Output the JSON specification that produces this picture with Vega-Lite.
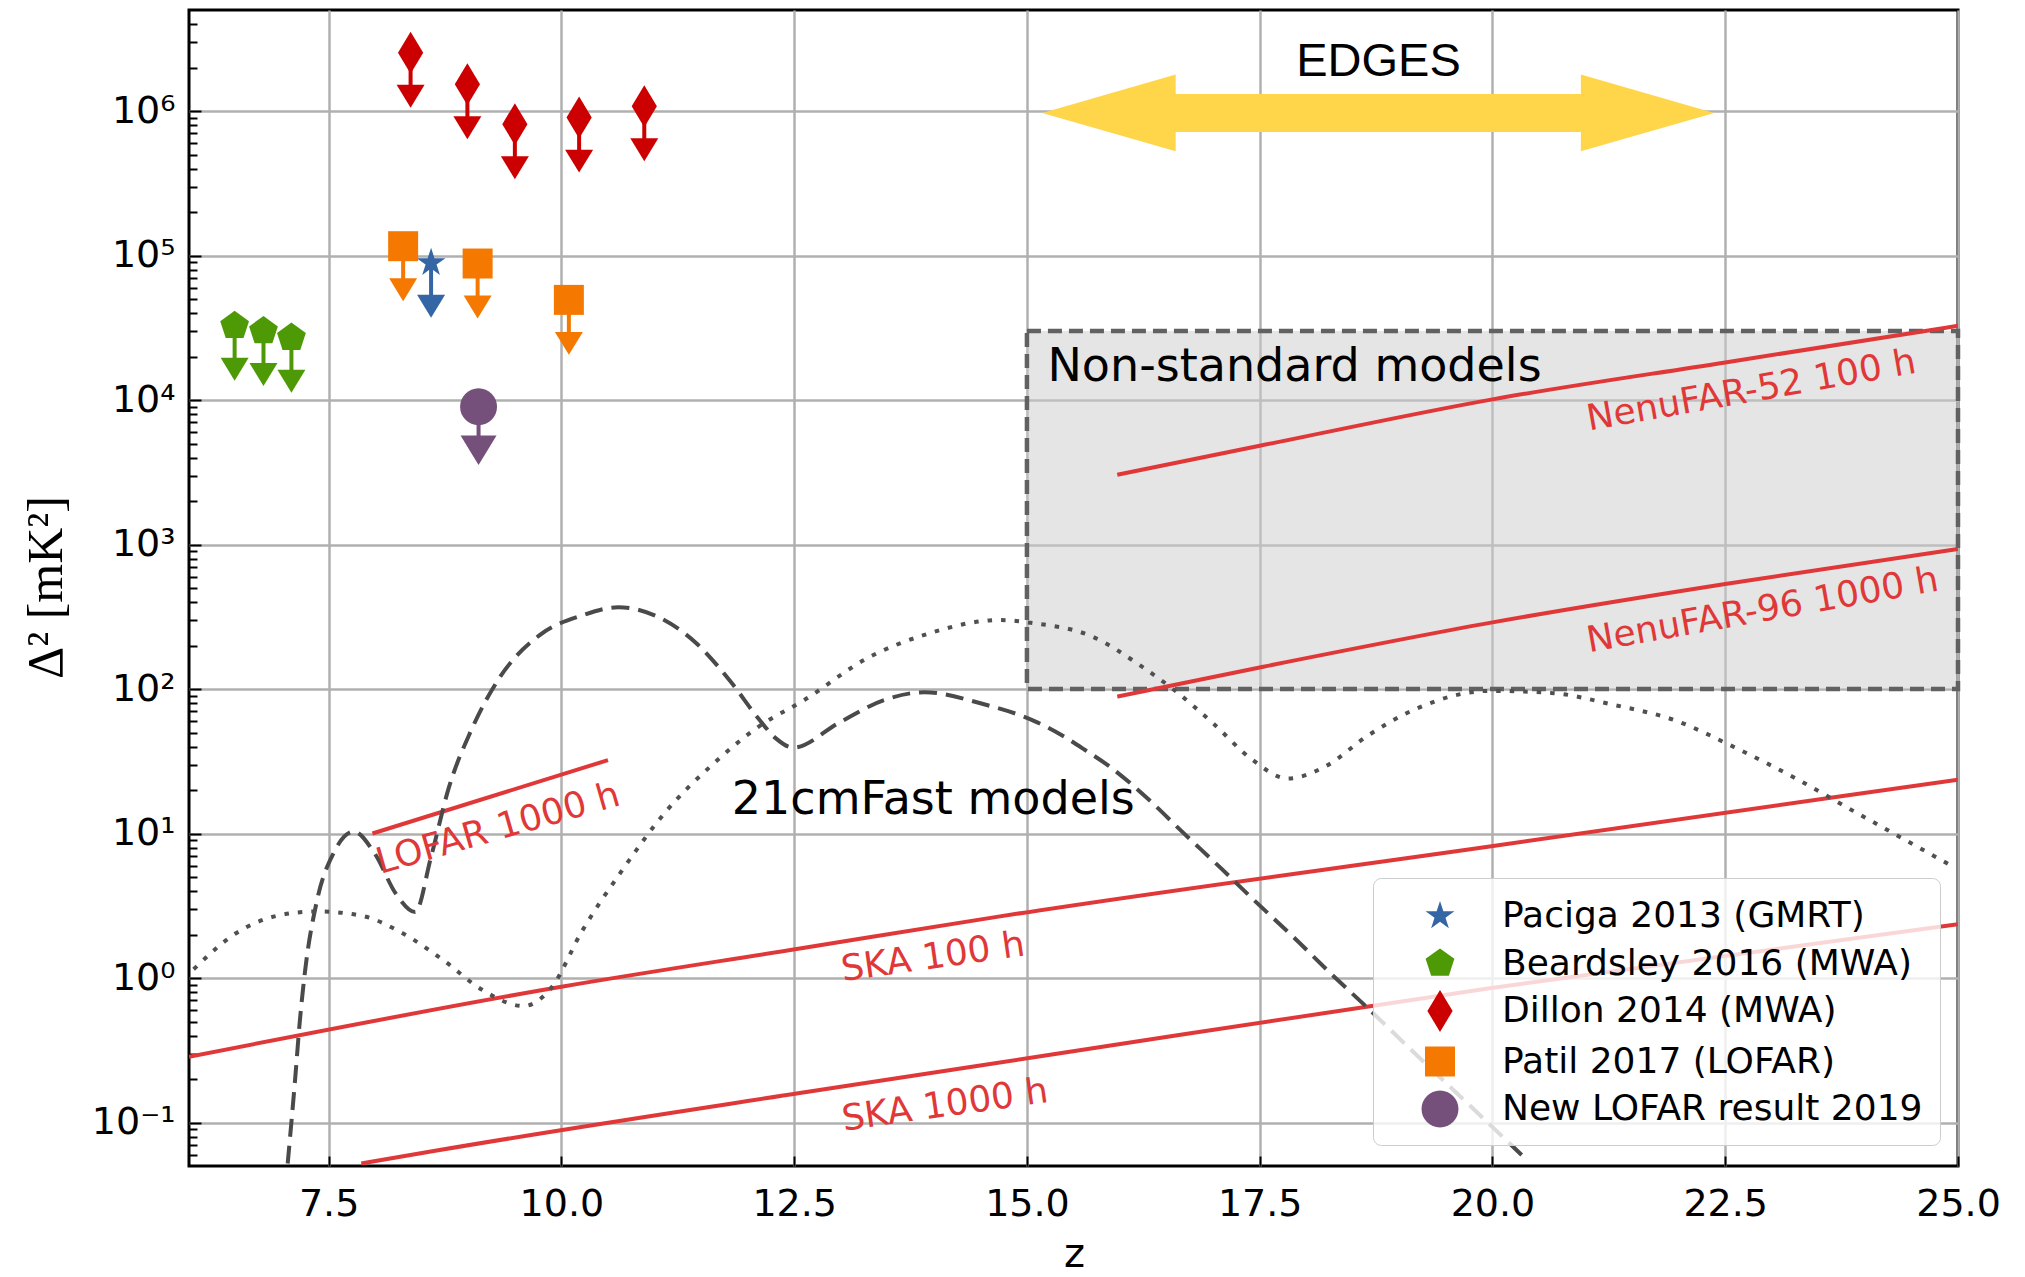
{
  "$schema": "https://vega.github.io/schema/vega-lite/v6.json",
  "width": 1769,
  "height": 1156,
  "autosize": {"type": "none"},
  "padding": {"left": 189, "top": 10, "right": 67, "bottom": 111},
  "background": "white",
  "config": {
    "view": {"stroke": "black", "strokeWidth": 3},
    "axis": {
      "labelFont": "DejaVu Sans", "titleFont": "DejaVu Sans", "labelColor": "black", "titleColor": "black",
      "titleFontWeight": "normal", "tickColor": "black", "tickWidth": 2, "gridColor": "#b0b0b0",
      "gridWidth": 2.5, "gridOpacity": 1, "domain": false, "labelFlush": false, "labelOverlap": false
    },
    "text": {"font": "DejaVu Sans"}
  },
  "datasets": {
    "box": [{"z": 15, "z2": 25, "v": 100, "v2": 30000}],
    "limits": [
      {"series": "Paciga 2013 (GMRT)", "z": 8.60, "v": 89000, "lo": 44500},
      {"series": "Beardsley 2016 (MWA)", "z": 6.49, "v": 32600, "lo": 16300},
      {"series": "Beardsley 2016 (MWA)", "z": 6.80, "v": 30000, "lo": 15000},
      {"series": "Beardsley 2016 (MWA)", "z": 7.10, "v": 27000, "lo": 13500},
      {"series": "Dillon 2014 (MWA)", "z": 8.38, "v": 2530000, "lo": 1265000},
      {"series": "Dillon 2014 (MWA)", "z": 8.99, "v": 1530000, "lo": 765000},
      {"series": "Dillon 2014 (MWA)", "z": 9.50, "v": 810000, "lo": 405000},
      {"series": "Dillon 2014 (MWA)", "z": 10.19, "v": 900000, "lo": 450000},
      {"series": "Dillon 2014 (MWA)", "z": 10.89, "v": 1080000, "lo": 540000},
      {"series": "Patil 2017 (LOFAR)", "z": 8.30, "v": 116000, "lo": 58000},
      {"series": "Patil 2017 (LOFAR)", "z": 9.10, "v": 88000, "lo": 44000},
      {"series": "Patil 2017 (LOFAR)", "z": 10.08, "v": 49300, "lo": 24650},
      {"series": "New LOFAR result 2019", "z": 9.11, "v": 8970, "lo": 4485}
    ],
    "sens": [
      {"name": "SKA 100 h", "z": 6, "v": 0.285},
      {"name": "SKA 100 h", "z": 10, "v": 0.87},
      {"name": "SKA 100 h", "z": 12.56, "v": 1.6},
      {"name": "SKA 100 h", "z": 14.71, "v": 2.67},
      {"name": "SKA 100 h", "z": 19.97, "v": 8.13},
      {"name": "SKA 100 h", "z": 25, "v": 23.6},
      {"name": "SKA 1000 h", "z": 7.85, "v": 0.052},
      {"name": "SKA 1000 h", "z": 8.66, "v": 0.064},
      {"name": "SKA 1000 h", "z": 12.56, "v": 0.16},
      {"name": "SKA 1000 h", "z": 15.25, "v": 0.294},
      {"name": "SKA 1000 h", "z": 19.97, "v": 0.85},
      {"name": "SKA 1000 h", "z": 25, "v": 2.36},
      {"name": "LOFAR 1000 h", "z": 7.97, "v": 10},
      {"name": "LOFAR 1000 h", "z": 10.5, "v": 32.2},
      {"name": "NenuFAR-52 100 h", "z": 15.97, "v": 3040},
      {"name": "NenuFAR-52 100 h", "z": 17.5, "v": 4820},
      {"name": "NenuFAR-52 100 h", "z": 20, "v": 10100},
      {"name": "NenuFAR-52 100 h", "z": 22.5, "v": 18200},
      {"name": "NenuFAR-52 100 h", "z": 25, "v": 32600},
      {"name": "NenuFAR-96 1000 h", "z": 15.97, "v": 88.6},
      {"name": "NenuFAR-96 1000 h", "z": 17.5, "v": 141},
      {"name": "NenuFAR-96 1000 h", "z": 20, "v": 289},
      {"name": "NenuFAR-96 1000 h", "z": 22.5, "v": 533},
      {"name": "NenuFAR-96 1000 h", "z": 25, "v": 931}
    ],
    "modelA": [
      {"z": 7.06, "v": 0.052}, {"z": 7.14, "v": 0.2}, {"z": 7.19, "v": 0.5}, {"z": 7.246, "v": 1.11},
      {"z": 7.37, "v": 3.33}, {"z": 7.554, "v": 7.35}, {"z": 7.77, "v": 10.3}, {"z": 7.99, "v": 7.35},
      {"z": 8.23, "v": 3.76}, {"z": 8.43, "v": 2.86}, {"z": 8.60, "v": 6.9}, {"z": 8.79, "v": 20.7},
      {"z": 9.03, "v": 51.6}, {"z": 9.34, "v": 121}, {"z": 9.77, "v": 237}, {"z": 10.21, "v": 321},
      {"z": 10.61, "v": 368}, {"z": 11.01, "v": 321}, {"z": 11.44, "v": 210}, {"z": 11.81, "v": 114},
      {"z": 12.12, "v": 62}, {"z": 12.30, "v": 45.7}, {"z": 12.49, "v": 39.3}, {"z": 12.98, "v": 58.4},
      {"z": 13.47, "v": 84}, {"z": 13.90, "v": 95}, {"z": 14.52, "v": 79}, {"z": 15.08, "v": 60},
      {"z": 15.37, "v": 48}, {"z": 15.62, "v": 38}, {"z": 15.89, "v": 29}, {"z": 16.29, "v": 17.6}, {"z": 16.68, "v": 10.1},
      {"z": 17.08, "v": 5.78}, {"z": 17.47, "v": 3.31}, {"z": 17.87, "v": 1.90}, {"z": 18.26, "v": 1.08},
      {"z": 18.66, "v": 0.62}, {"z": 19.18, "v": 0.295}, {"z": 19.71, "v": 0.14}, {"z": 20.37, "v": 0.055}
    ],
    "modelB": [
      {"z": 6.05, "v": 1.15}, {"z": 6.51, "v": 2.05}, {"z": 6.94, "v": 2.69}, {"z": 7.37, "v": 2.89},
      {"z": 7.86, "v": 2.69}, {"z": 8.29, "v": 2.05}, {"z": 8.73, "v": 1.33}, {"z": 9.16, "v": 0.82},
      {"z": 9.59, "v": 0.64}, {"z": 9.90, "v": 0.87}, {"z": 10.21, "v": 2.05}, {"z": 10.64, "v": 5.42},
      {"z": 11.13, "v": 14.4}, {"z": 11.62, "v": 29.9}, {"z": 12.12, "v": 55}, {"z": 12.61, "v": 84},
      {"z": 13.29, "v": 164}, {"z": 13.90, "v": 237}, {"z": 14.71, "v": 300}, {"z": 15.04, "v": 287},
      {"z": 15.70, "v": 231}, {"z": 16.22, "v": 145}, {"z": 16.62, "v": 94}, {"z": 17.01, "v": 57},
      {"z": 17.41, "v": 32.8}, {"z": 17.80, "v": 24}, {"z": 18.20, "v": 29}, {"z": 18.66, "v": 47.5},
      {"z": 19.18, "v": 73}, {"z": 19.97, "v": 97}, {"z": 20.63, "v": 94}, {"z": 21.29, "v": 78},
      {"z": 21.95, "v": 61}, {"z": 22.60, "v": 39.5}, {"z": 23.26, "v": 24}, {"z": 23.92, "v": 13.8},
      {"z": 24.45, "v": 8.9}, {"z": 24.97, "v": 5.78}
    ],
    "edges": [{"z": 16.55, "z2": 21.0, "v": 970000}],
    "edgesLeft": [{"z": 15.881, "v": 970000}],
    "edgesRight": [{"z": 21.666, "v": 970000}],
    "skaLabels": [
      {"t": "SKA 100 h", "z": 13.99, "v": 1.39},
      {"t": "SKA 1000 h", "z": 14.12, "v": 0.1315}
    ],
    "lofarLabel": [{"t": "LOFAR 1000 h", "z": 9.32, "v": 10.8}],
    "nenuLabels": [
      {"t": "NenuFAR-52 100 h", "z": 22.78, "v": 11600},
      {"t": "NenuFAR-96 1000 h", "z": 22.90, "v": 350}
    ],
    "blackLabels": [
      {"t": "21cmFast models", "z": 11.83, "v": 13.7},
      {"t": "Non-standard models", "z": 15.22, "v": 13580}
    ],
    "edgesLabel": [{"t": "EDGES", "z": 18.776, "v": 1750000}]
  },
  "layer": [
    {
      "layer": [
        {
          "data": {"name": "box"},
          "mark": {"type": "rect", "fill": "#cccccc", "fillOpacity": 0.5, "stroke": "#616161", "strokeWidth": 4.5, "strokeDash": [14, 7]},
          "encoding": {
            "x": {"field": "z", "type": "quantitative", "scale": {"domain": [6, 25], "nice": false, "zero": false},
              "axis": {"title": "z", "values": [7.5, 10, 12.5, 15, 17.5, 20, 22.5, 25], "format": ".1f", "labelFontSize": 38,
                "tickSize": -10, "labelPadding": 29, "titleFontSize": 40, "titleX": 885, "titleY": 100,
                "titleBaseline": "alphabetic", "titleAlign": "center", "grid": true}},
            "x2": {"field": "z2"},
            "y": {"field": "v", "type": "quantitative", "scale": {"type": "log", "domain": [0.05, 5000000], "nice": false},
              "axis": {"title": "Δ² [mK²]", "values": [0.1, 1, 10, 100, 1000, 10000, 100000, 1000000],
                "labelExpr": "datum.value < 0.5 ? '10⁻¹' : datum.value < 5 ? '10⁰' : datum.value < 50 ? '10¹' : datum.value < 500 ? '10²' : datum.value < 5000 ? '10³' : datum.value < 50000 ? '10⁴' : datum.value < 500000 ? '10⁵' : '10⁶'",
                "labelFontSize": 38, "tickSize": -12, "labelPadding": 26, "titleFont": "Liberation Serif", "titleFontSize": 50,
                "titleAngle": 270, "titleX": -143, "titleY": 577, "titleAlign": "center", "titleBaseline": "middle", "grid": true}},
            "y2": {"field": "v2"}
          }
        },
        {
          "data": {"name": "sens"},
          "mark": {"type": "line", "color": "#e03838", "strokeWidth": 4, "clip": true, "interpolate": "monotone"},
          "encoding": {
            "x": {"field": "z", "type": "quantitative", "scale": {"domain": [6, 25], "nice": false, "zero": false}},
            "y": {"field": "v", "type": "quantitative", "scale": {"type": "log", "domain": [0.05, 5000000], "nice": false}},
            "detail": {"field": "name", "type": "nominal"}
          }
        },
        {
          "data": {"name": "modelA"},
          "mark": {"type": "line", "color": "#4a4a4a", "strokeWidth": 4, "strokeDash": [18, 9], "clip": true, "interpolate": "monotone"},
          "encoding": {
            "x": {"field": "z", "type": "quantitative", "scale": {"domain": [6, 25], "nice": false, "zero": false}},
            "y": {"field": "v", "type": "quantitative", "scale": {"type": "log", "domain": [0.05, 5000000], "nice": false}}
          }
        },
        {
          "data": {"name": "limits"},
          "mark": {"type": "rule", "strokeWidth": 4},
          "encoding": {
            "x": {"field": "z", "type": "quantitative", "scale": {"domain": [6, 25], "nice": false, "zero": false}},
            "y": {"field": "v", "type": "quantitative", "scale": {"type": "log", "domain": [0.05, 5000000], "nice": false}},
            "y2": {"field": "lo"},
            "stroke": {"field": "series", "type": "nominal",
              "scale": {"domain": ["New LOFAR result 2019", "Patil 2017 (LOFAR)", "Dillon 2014 (MWA)", "Beardsley 2016 (MWA)", "Paciga 2013 (GMRT)"],
                "range": ["#75507b", "#f57900", "#cc0000", "#4e9a06", "#3465a4"]}, "legend": null}
          }
        },
        {
          "data": {"name": "limits"},
          "transform": [{"filter": "datum.series !== 'New LOFAR result 2019'"}],
          "mark": {"type": "point", "filled": true, "shape": "M-1,-0.82L1,-0.82L0,0.82Z", "size": 784, "opacity": 1, "strokeWidth": 0},
          "encoding": {
            "x": {"field": "z", "type": "quantitative", "scale": {"domain": [6, 25], "nice": false, "zero": false}},
            "y": {"field": "lo", "type": "quantitative", "scale": {"type": "log", "domain": [0.05, 5000000], "nice": false}},
            "fill": {"field": "series", "type": "nominal",
              "scale": {"domain": ["Patil 2017 (LOFAR)", "Paciga 2013 (GMRT)", "Dillon 2014 (MWA)", "Beardsley 2016 (MWA)"],
                "range": ["#f57900", "#3465a4", "#cc0000", "#4e9a06"]}, "legend": null}
          }
        },
        {
          "data": {"name": "limits"},
          "transform": [{"filter": "datum.series === 'New LOFAR result 2019'"}],
          "mark": {"type": "point", "filled": true, "shape": "M-1,-0.82L1,-0.82L0,0.82Z", "size": 1296, "opacity": 1, "strokeWidth": 0, "color": "#75507b"},
          "encoding": {
            "x": {"field": "z", "type": "quantitative", "scale": {"domain": [6, 25], "nice": false, "zero": false}},
            "y": {"field": "lo", "type": "quantitative", "scale": {"type": "log", "domain": [0.05, 5000000], "nice": false}}
          }
        },
        {
          "data": {"name": "limits"},
          "mark": {"type": "point", "filled": true, "size": 1764, "opacity": 1, "strokeWidth": 0},
          "encoding": {
            "x": {"field": "z", "type": "quantitative", "scale": {"domain": [6, 25], "nice": false, "zero": false}},
            "y": {"field": "v", "type": "quantitative", "scale": {"type": "log", "domain": [0.05, 5000000], "nice": false}},
            "color": {"field": "series", "type": "nominal",
              "scale": {"domain": ["Paciga 2013 (GMRT)", "Beardsley 2016 (MWA)", "Dillon 2014 (MWA)", "Patil 2017 (LOFAR)", "New LOFAR result 2019"],
                "range": ["#3465a4", "#4e9a06", "#cc0000", "#f57900", "#75507b"]},
              "legend": {"orient": "none", "legendX": 1184, "legendY": 868, "title": null, "labelFont": "DejaVu Sans", "labelFontSize": 36,
                "labelColor": "black", "symbolSize": 1764, "symbolStrokeWidth": 0, "symbolOpacity": 1, "symbolOffset": 29, "labelOffset": 41,
                "rowPadding": 8.5, "padding": 17, "fillColor": "rgba(255,255,255,0.8)", "strokeColor": "#cccccc",
                "cornerRadius": 8, "labelLimit": 800}},
            "shape": {"field": "series", "type": "nominal",
              "scale": {"domain": ["Paciga 2013 (GMRT)", "Beardsley 2016 (MWA)", "Dillon 2014 (MWA)", "Patil 2017 (LOFAR)", "New LOFAR result 2019"],
                "range": [
                  "M0,-0.72L0.161,-0.222L0.685,-0.223L0.261,0.085L0.423,0.583L0,0.275L-0.423,0.583L-0.261,0.085L-0.685,-0.223L-0.161,-0.222Z",
                  "M0,-0.72L0.685,-0.222L0.423,0.582L-0.423,0.582L-0.685,-0.222Z",
                  "M0,-1L0.6,0L0,1L-0.6,0Z",
                  "M-0.714,-0.714L0.714,-0.714L0.714,0.714L-0.714,0.714Z",
                  "M-0.88,0A0.88,0.88,0,1,0,0.88,0A0.88,0.88,0,1,0,-0.88,0Z"
                ]},
              "legend": {"orient": "none", "legendX": 1184, "legendY": 868, "title": null, "labelFont": "DejaVu Sans", "labelFontSize": 36,
                "labelColor": "black", "symbolSize": 1764, "symbolStrokeWidth": 0, "symbolOpacity": 1, "symbolOffset": 29, "labelOffset": 41,
                "rowPadding": 8.5, "padding": 17, "fillColor": "rgba(255,255,255,0.8)", "strokeColor": "#cccccc",
                "cornerRadius": 8, "labelLimit": 800}}
          }
        },
        {
          "data": {"name": "edges"},
          "mark": {"type": "rule", "strokeWidth": 38, "color": "#ffd64a", "strokeCap": "butt"},
          "encoding": {
            "x": {"field": "z", "type": "quantitative", "scale": {"domain": [6, 25], "nice": false, "zero": false}},
            "x2": {"field": "z2"},
            "y": {"field": "v", "type": "quantitative", "scale": {"type": "log", "domain": [0.05, 5000000], "nice": false}}
          }
        },
        {
          "data": {"name": "edgesLeft"},
          "mark": {"type": "point", "filled": true, "shape": "M-1,0L1,-0.575L1,0.575Z", "size": 17796, "color": "#ffd64a", "opacity": 1, "strokeWidth": 0},
          "encoding": {
            "x": {"field": "z", "type": "quantitative", "scale": {"domain": [6, 25], "nice": false, "zero": false}},
            "y": {"field": "v", "type": "quantitative", "scale": {"type": "log", "domain": [0.05, 5000000], "nice": false}}
          }
        },
        {
          "data": {"name": "edgesRight"},
          "mark": {"type": "point", "filled": true, "shape": "M1,0L-1,-0.575L-1,0.575Z", "size": 17796, "color": "#ffd64a", "opacity": 1, "strokeWidth": 0},
          "encoding": {
            "x": {"field": "z", "type": "quantitative", "scale": {"domain": [6, 25], "nice": false, "zero": false}},
            "y": {"field": "v", "type": "quantitative", "scale": {"type": "log", "domain": [0.05, 5000000], "nice": false}}
          }
        },
        {
          "data": {"name": "skaLabels"},
          "mark": {"type": "text", "angle": 352, "fontSize": 36, "font": "DejaVu Sans", "color": "#e03838", "align": "center", "baseline": "middle"},
          "encoding": {
            "x": {"field": "z", "type": "quantitative", "scale": {"domain": [6, 25], "nice": false, "zero": false}},
            "y": {"field": "v", "type": "quantitative", "scale": {"type": "log", "domain": [0.05, 5000000], "nice": false}},
            "text": {"field": "t"}
          }
        },
        {
          "data": {"name": "lofarLabel"},
          "mark": {"type": "text", "angle": 344, "fontSize": 36, "font": "DejaVu Sans", "color": "#e03838", "align": "center", "baseline": "middle"},
          "encoding": {
            "x": {"field": "z", "type": "quantitative", "scale": {"domain": [6, 25], "nice": false, "zero": false}},
            "y": {"field": "v", "type": "quantitative", "scale": {"type": "log", "domain": [0.05, 5000000], "nice": false}},
            "text": {"field": "t"}
          }
        },
        {
          "data": {"name": "nenuLabels"},
          "mark": {"type": "text", "angle": 350, "fontSize": 36, "font": "DejaVu Sans", "color": "#e03838", "align": "center", "baseline": "middle"},
          "encoding": {
            "x": {"field": "z", "type": "quantitative", "scale": {"domain": [6, 25], "nice": false, "zero": false}},
            "y": {"field": "v", "type": "quantitative", "scale": {"type": "log", "domain": [0.05, 5000000], "nice": false}},
            "text": {"field": "t"}
          }
        },
        {
          "data": {"name": "blackLabels"},
          "mark": {"type": "text", "fontSize": 46, "font": "DejaVu Sans", "color": "black", "align": "left", "baseline": "alphabetic"},
          "encoding": {
            "x": {"field": "z", "type": "quantitative", "scale": {"domain": [6, 25], "nice": false, "zero": false}},
            "y": {"field": "v", "type": "quantitative", "scale": {"type": "log", "domain": [0.05, 5000000], "nice": false}},
            "text": {"field": "t"}
          }
        },
        {
          "data": {"name": "edgesLabel"},
          "mark": {"type": "text", "fontSize": 47, "font": "Liberation Sans", "color": "black", "align": "center", "baseline": "alphabetic"},
          "encoding": {
            "x": {"field": "z", "type": "quantitative", "scale": {"domain": [6, 25], "nice": false, "zero": false}},
            "y": {"field": "v", "type": "quantitative", "scale": {"type": "log", "domain": [0.05, 5000000], "nice": false}},
            "text": {"field": "t"}
          }
        }
      ]
    },
    {
      "data": {"name": "modelB"},
      "mark": {"type": "line", "color": "#505050", "strokeWidth": 4, "strokeDash": [4.5, 9], "clip": true, "interpolate": "monotone"},
      "encoding": {
        "x": {"field": "z", "type": "quantitative", "scale": {"domain": [6, 25], "nice": false, "zero": false}},
        "y": {"field": "v", "type": "quantitative", "scale": {"type": "log", "domain": [0.05, 5000000], "nice": false},
          "axis": {"orient": "left", "title": null, "labels": false, "grid": false, "domain": false, "ticks": true, "tickSize": -8,
            "values": [0.06, 0.07, 0.08, 0.09, 0.2, 0.3, 0.4, 0.5, 0.6, 0.7, 0.8, 0.9, 2, 3, 4, 5, 6, 7, 8, 9, 20, 30, 40, 50, 60, 70, 80, 90,
              200, 300, 400, 500, 600, 700, 800, 900, 2000, 3000, 4000, 5000, 6000, 7000, 8000, 9000, 20000, 30000, 40000, 50000, 60000, 70000, 80000, 90000,
              200000, 300000, 400000, 500000, 600000, 700000, 800000, 900000, 2000000, 3000000, 4000000]}}
      }
    }
  ],
  "resolve": {"axis": {"y": "independent"}}
}
